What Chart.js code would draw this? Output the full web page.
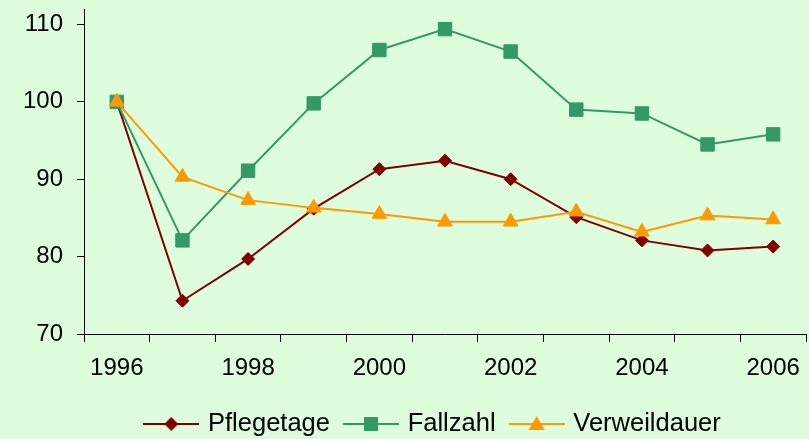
<!DOCTYPE html>
<html>
<head>
<meta charset="utf-8">
<script src="https://cdn.jsdelivr.net/npm/chart.js@4.4.1/dist/chart.umd.min.js"></script>
<style>
  html, body { margin: 0; padding: 0; background: #DDFDDD; }
  #wrap { width: 809px; height: 439px; }
</style>
</head>
<body>
<div id="wrap"><canvas id="chart"></canvas></div>
<script>
const years = ['1996', '1997', '1998', '1999', '2000', '2001', '2002', '2003', '2004', '2005', '2006'];
const pflegetage = [100, 74.3, 79.7, 86.2, 91.3, 92.4, 90.0, 85.1, 82.1, 80.8, 81.3];
const fallzahl = [100, 82.1, 91.1, 99.8, 106.7, 109.4, 106.5, 99.0, 98.5, 94.5, 95.8];
const verweildauer = [100, 90.3, 87.3, 86.3, 85.5, 84.5, 84.5, 85.8, 83.2, 85.3, 84.8];
const yTicks = [70, 80, 90, 100, 110];

const FONT = '"Liberation Sans", Arial, sans-serif';
const RED = '#800000', GREEN = '#339966', ORANGE = '#FF9900';

// small legend samples: line with marker in the middle
function legendSample(color, shape) {
    const c = document.createElement('canvas');
    c.width = 56; c.height = 18;
    const ctx = c.getContext('2d');
    ctx.strokeStyle = color;
    ctx.fillStyle = color;
    ctx.lineWidth = 2;
    ctx.beginPath();
    ctx.moveTo(0, 9); ctx.lineTo(56, 9);
    ctx.stroke();
    ctx.beginPath();
    if (shape === 'diamond') {
        ctx.moveTo(28, 2); ctx.lineTo(35, 9); ctx.lineTo(28, 16); ctx.lineTo(21, 9);
    } else if (shape === 'square') {
        ctx.rect(21, 2, 14, 14);
    } else {
        ctx.moveTo(28, 1); ctx.lineTo(36, 15); ctx.lineTo(20, 15);
    }
    ctx.closePath();
    ctx.fill();
    return c;
}
const samples = [legendSample(RED, 'diamond'), legendSample(GREEN, 'square'), legendSample(ORANGE, 'triangle')];

const bgPlugin = {
    id: 'bg',
    beforeDraw(chart) {
        const ctx = chart.ctx;
        ctx.save();
        ctx.fillStyle = '#DDFDDD';
        ctx.fillRect(0, 0, chart.width, chart.height);
        ctx.restore();
    }
};

// the legend in the original sits a bit right of the page centre
const legendShift = {
    id: 'legendShift',
    afterLayout(chart) {
        if (chart.legend) {
            chart.legend.left += 31;
            chart.legend.right += 31;
        }
    }
};

function noMargins(scale) {
    scale.paddingTop = 0;
    scale.paddingBottom = 0;
    scale.paddingLeft = 0;
    scale.paddingRight = 0;
}

new Chart(document.getElementById('chart').getContext('2d'), {
    type: 'line',
    data: {
        labels: years,
        datasets: [{
            label: 'Pflegetage',
            data: pflegetage,
            order: 2,
            borderColor: RED,
            backgroundColor: RED,
            borderWidth: 2,
            pointStyle: 'rectRot',
            pointRadius: 6.5,
            pointBorderWidth: 1,
            tension: 0,
        }, {
            label: 'Fallzahl',
            data: fallzahl,
            order: 1,
            borderColor: GREEN,
            backgroundColor: GREEN,
            borderWidth: 2,
            pointStyle: 'rect',
            pointRadius: 9.5,
            pointBorderWidth: 1,
            tension: 0,
        }, {
            label: 'Verweildauer',
            data: verweildauer,
            order: 0,
            borderColor: ORANGE,
            backgroundColor: ORANGE,
            borderWidth: 2,
            pointStyle: 'triangle',
            pointRadius: 8.5,
            pointBorderWidth: 1,
            tension: 0,
        }],
    },
    options: {
        responsive: true,
        maintainAspectRatio: false,
        animation: false,
        layout: { autoPadding: false, padding: { top: 9, right: 3, left: 0, bottom: -7.75 } },
        plugins: {
            tooltip: { enabled: false },
            legend: {
                position: 'bottom',
                labels: {
                    font: { family: FONT, size: 25.5 },
                    color: '#000',
                    usePointStyle: true,
                    pointStyleWidth: 48,
                    boxHeight: 18,
                    padding: 17,
                    generateLabels(chart) {
                        const items = Chart.defaults.plugins.legend.labels.generateLabels(chart);
                        items.sort((a, b) => a.datasetIndex - b.datasetIndex);
                        items.forEach((it) => { it.pointStyle = samples[it.datasetIndex]; });
                        return items;
                    },
                },
            },
        },
        scales: {
            x: {
                type: 'category',
                offset: true,
                grid: { offset: true, drawOnChartArea: false, drawTicks: true, tickLength: 8, tickColor: '#000' },
                border: { display: true, color: '#000', width: 1 },
                ticks: {
                    autoSkip: false,
                    maxRotation: 0,
                    padding: 12,
                    color: '#000',
                    font: { family: FONT, size: 24 },
                    callback: (v, i) => (i % 2 === 0 ? years[i] : ''),
                },
                afterFit: (scale) => { scale.height = 60.25; noMargins(scale); },
            },
            y: {
                min: 70,
                max: 112,
                grid: { drawOnChartArea: false, drawTicks: true, tickLength: 7, tickColor: '#000' },
                border: { display: true, color: '#000', width: 1 },
                afterBuildTicks: (scale) => {
                    scale.ticks = yTicks.map(v => ({ value: v }));
                },
                ticks: {
                    padding: 14,
                    color: '#000',
                    font: { family: FONT, size: 24 },
                },
                afterFit: (scale) => { scale.width = 84; noMargins(scale); },
            },
        },
    },
    plugins: [bgPlugin, legendShift],
});
</script>
</body>
</html>
